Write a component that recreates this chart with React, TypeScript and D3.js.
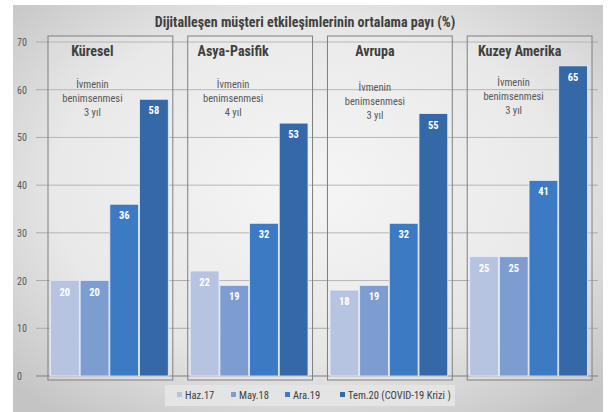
import React from "react";
import * as d3 from "d3";

const regions = ["Küresel", "Asya-Pasifik", "Avrupa", "Kuzey Amerika"];
const seriesNames = ["Haz.17", "May.18", "Ara.19", "Tem.20 (COVID-19 Krizi )"];
const hazValues = [20, 22, 18, 25];
const mayValues = [20, 19, 19, 25];
const araValues = [36, 32, 32, 41];
const temValues = [58, 53, 55, 65];
const adoptionYears = ["3 yıl", "4 yıl", "3 yıl", "3 yıl"];
const yTicks = [0, 10, 20, 30, 40, 50, 60, 70];
const colors = ["#b6c4e2", "#7d9dd1", "#3d7ac4", "#3568a7"];

const W = 610;
const H = 412;
const FONT = "'Liberation Sans Narrow', 'Roboto Condensed', 'Liberation Sans', sans-serif";

export default function App() {
  const series = [hazValues, mayValues, araValues, temValues];
  const y = d3.scaleLinear().domain([0, 70]).range([376, 42]);
  const xOuter = d3.scaleBand<string>().domain(regions).range([48, 592]).paddingInner(0.107);
  const bw = xOuter.bandwidth();
  const xInner = d3
    .scaleBand<string>()
    .domain(seriesNames)
    .range([2.5, bw - 4.5])
    .paddingInner(0.03);

  const titleOffsets = [-18, -17, -15, -10];
  const noteOffsets = [-18, -17, -15, -16];
  const noteDy = [0, 0, 3, -2];

  const legendX = [180, 234, 288, 343];

  return (
    <svg width={W} height={H} style={{ position: "absolute", left: 0, top: 0 }}>
      <defs>
        <radialGradient id="bg" cx="50%" cy="45%" r="70%">
          <stop offset="0%" stopColor="#f4f4f4" />
          <stop offset="60%" stopColor="#e6e6e6" />
          <stop offset="100%" stopColor="#c4c4c4" />
        </radialGradient>
      </defs>
      <rect x={0} y={0} width={W} height={H} fill="#ffffff" />
      <rect x={13} y={5} width={590} height={407} fill="url(#bg)" />
      <text
        x={305}
        y={27}
        textAnchor="middle"
        fontFamily={FONT}
        fontWeight="bold"
        fontSize={14}
        fill="#404040"
      >
        Dijitalleşen müşteri etkileşimlerinin ortalama payı (%)
      </text>

      {yTicks.map((t) => (
        <g key={t}>
          <line
            x1={36}
            x2={598}
            y1={y(t)}
            y2={y(t)}
            stroke={t === 0 ? "#7f7f7f" : "#aaaaaa"}
            strokeWidth={1}
          />
          <text
            x={17}
            y={y(t) + 4}
            fontFamily={FONT}
            fontSize={10}
            fill="#595959"
          >
            {t}
          </text>
        </g>
      ))}

      {regions.map((r, ri) => {
        const x0 = xOuter(r)!;
        const cx = x0 + bw / 2;
        return (
          <g key={r}>
            <rect
              x={x0}
              y={36}
              width={bw}
              height={380 - 36}
              fill="#ffffff"
              fillOpacity={0.15}
              stroke="#7f7f7f"
              strokeWidth={1}
            />
            <text
              x={cx + titleOffsets[ri]}
              y={56}
              textAnchor="middle"
              fontFamily={FONT}
              fontWeight="bold"
              fontSize={14}
              fill="#404040"
            >
              {r}
            </text>
            <text
              textAnchor="middle"
              fontFamily={FONT}
              fontSize={10.5}
              fill="#595959"
            >
              <tspan x={cx + noteOffsets[ri]} y={88 + noteDy[ri]}>İvmenin</tspan>
              <tspan x={cx + noteOffsets[ri]} y={102 + noteDy[ri]}>benimsenmesi</tspan>
              <tspan x={cx + noteOffsets[ri]} y={116 + noteDy[ri]}>{adoptionYears[ri]}</tspan>
            </text>
            {seriesNames.map((s, si) => {
              const v = series[si][ri];
              const bx = x0 + xInner(s)!;
              const w = xInner.bandwidth();
              return (
                <g key={s}>
                  <rect
                    x={bx}
                    y={y(v)}
                    width={w}
                    height={y(0) - y(v)}
                    fill={colors[si]}
                    stroke="#e8eef8"
                    strokeWidth={0.8}
                  />
                  <text
                    x={bx + w / 2}
                    y={y(v) + 15}
                    textAnchor="middle"
                    fontFamily={FONT}
                    fontWeight="bold"
                    fontSize={10.5}
                    fill="#ffffff"
                  >
                    {v}
                  </text>
                </g>
              );
            })}
          </g>
        );
      })}

      <rect x={165} y={385} width={290} height={21} fill="#e4e4e4" />
      {seriesNames.map((s, si) => (
        <g key={s}>
          <rect x={legendX[si] - 3} y={392} width={5} height={5} fill={colors[si]} />
          <text
            x={legendX[si] + 5}
            y={398.5}
            fontFamily={FONT}
            fontSize={10.5}
            fill="#404040"
          >
            {s}
          </text>
        </g>
      ))}
    </svg>
  );
}
